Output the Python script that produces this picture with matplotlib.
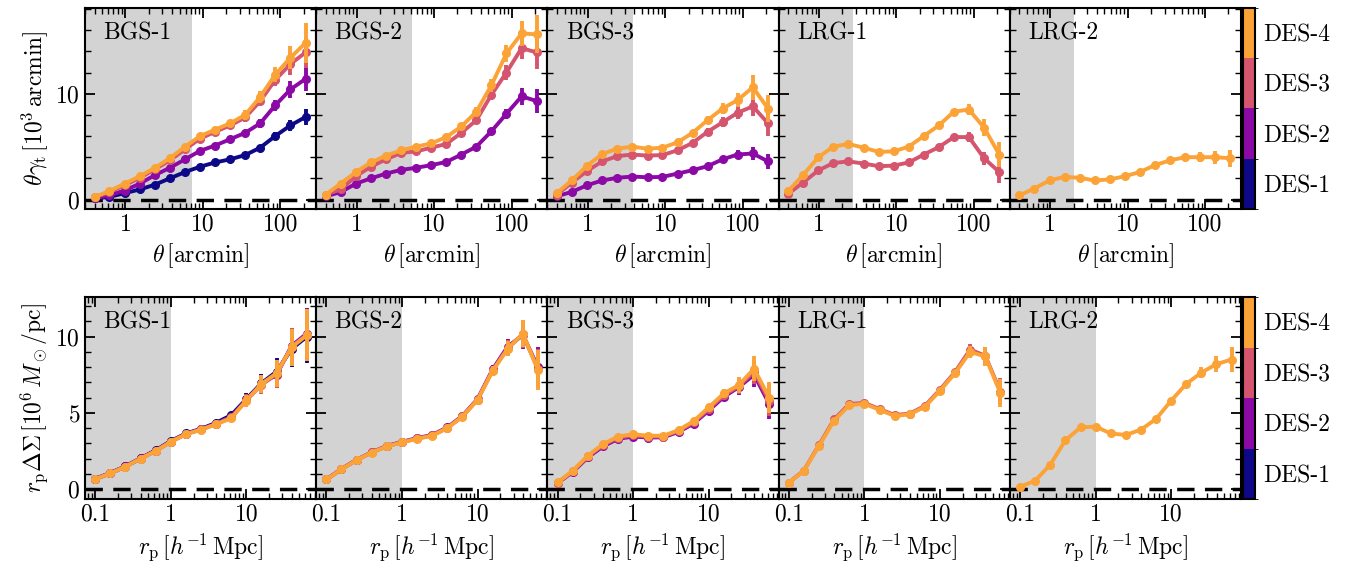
import numpy as np
import matplotlib
matplotlib.use("Agg")
import matplotlib.pyplot as plt
from matplotlib.ticker import MultipleLocator, FixedLocator, FixedFormatter, LogLocator, NullFormatter
from matplotlib.colors import ListedColormap, BoundaryNorm
import matplotlib.colorbar as mcolorbar

plt.rcParams['font.family'] = 'serif'
plt.rcParams['font.serif'] = ['cmr10', 'DejaVu Serif']
plt.rcParams['mathtext.fontset'] = 'cm'
plt.rcParams['axes.formatter.use_mathtext'] = True

# samples
lenses = ['BGS-1', 'BGS-2', 'BGS-3', 'LRG-1', 'LRG-2']
sources = ['DES-1', 'DES-2', 'DES-3', 'DES-4']
colors = ['#0d0887', '#8b0aa5', '#d5546e', '#fca338']

# angular bins [arcmin] and projected radii [Mpc/h]
theta = [0.40, 0.62, 0.98, 1.53, 2.4, 3.75, 5.9, 9.2, 14.4, 22.5, 35.2, 55.0, 86.0, 135.0, 212.0]
rp = [0.1, 0.158, 0.251, 0.398, 0.631, 1.0, 1.585, 2.512, 3.981, 6.31, 10.0, 15.85, 25.12, 39.81, 63.1]

# small-scale cuts (grey)
theta_cut = [7.3, 5.25, 3.86, 2.75, 2.0]
rp_cut = [1.0, 1.0, 1.0, 1.0, 1.0]

# theta * gamma_t [1e3 arcmin], keyed by source index
gt_bgs1 = {
    0: [0.10, 0.25, 0.60, 0.95, 1.40, 2.00, 2.60, 3.10, 3.50, 3.80, 4.20, 4.90, 6.00, 7.00, 7.80],
    1: [0.10, 0.40, 0.85, 1.50, 2.30, 3.00, 3.80, 4.60, 5.10, 5.70, 6.30, 7.20, 8.90, 10.4, 11.4],
    2: [0.20, 0.70, 1.35, 2.05, 2.85, 3.70, 4.75, 5.75, 6.40, 7.00, 7.75, 9.30, 11.3, 12.8, 13.9],
    3: [0.25, 0.80, 1.50, 2.20, 3.00, 3.90, 5.00, 6.00, 6.60, 7.20, 8.00, 9.70, 11.8, 13.4, 14.8],
}
gt_bgs1_err = {
    0: [0.03, 0.03, 0.04, 0.05, 0.06, 0.07, 0.08, 0.10, 0.12, 0.15, 0.20, 0.25, 0.35, 0.50, 0.80],
    1: [0.03, 0.04, 0.05, 0.06, 0.08, 0.10, 0.12, 0.15, 0.20, 0.25, 0.30, 0.40, 0.50, 0.80, 1.10],
    2: [0.04, 0.05, 0.06, 0.08, 0.10, 0.12, 0.15, 0.20, 0.25, 0.30, 0.40, 0.50, 0.60, 1.00, 1.50],
    3: [0.04, 0.05, 0.07, 0.09, 0.11, 0.14, 0.17, 0.22, 0.28, 0.35, 0.45, 0.55, 0.70, 1.10, 1.90],
}
gt_bgs2 = {
    1: [0.30, 0.70, 1.50, 2.00, 2.45, 2.80, 3.00, 3.25, 3.55, 4.25, 5.00, 6.45, 8.10, 9.75, 9.30],
    2: [0.47, 0.95, 2.20, 3.10, 3.80, 4.40, 4.55, 4.90, 5.25, 6.30, 7.50, 9.90, 12.0, 14.3, 13.9],
    3: [0.47, 1.50, 2.60, 3.50, 4.15, 4.65, 5.00, 5.30, 5.90, 6.90, 8.30, 10.8, 13.8, 15.7, 15.6],
}
gt_bgs2_err = {
    1: [0.03, 0.04, 0.05, 0.06, 0.07, 0.08, 0.10, 0.12, 0.15, 0.20, 0.25, 0.35, 0.50, 0.80, 1.10],
    2: [0.04, 0.05, 0.06, 0.08, 0.10, 0.12, 0.15, 0.18, 0.22, 0.30, 0.40, 0.50, 0.70, 1.00, 1.60],
    3: [0.04, 0.05, 0.07, 0.09, 0.11, 0.14, 0.17, 0.22, 0.28, 0.35, 0.45, 0.60, 0.80, 1.20, 1.80],
}
gt_bgs3 = {
    1: [0.31, 0.72, 1.35, 1.80, 2.05, 2.17, 2.10, 2.14, 2.45, 2.77, 3.15, 3.80, 4.25, 4.35, 3.60],
    2: [0.47, 1.60, 2.70, 3.60, 4.10, 4.25, 4.15, 4.20, 4.65, 5.35, 6.40, 7.30, 8.20, 8.80, 7.20],
    3: [0.63, 1.80, 3.20, 4.30, 4.80, 5.00, 4.80, 4.90, 5.40, 6.30, 7.50, 8.60, 9.40, 10.6, 8.60],
}
gt_bgs3_err = {
    1: [0.03, 0.04, 0.05, 0.06, 0.07, 0.08, 0.09, 0.10, 0.12, 0.15, 0.20, 0.30, 0.40, 0.60, 0.70],
    2: [0.04, 0.05, 0.06, 0.07, 0.08, 0.10, 0.12, 0.15, 0.20, 0.25, 0.35, 0.45, 0.60, 0.90, 1.20],
    3: [0.04, 0.05, 0.07, 0.08, 0.10, 0.12, 0.14, 0.18, 0.22, 0.30, 0.40, 0.55, 0.70, 1.20, 1.30],
}
gt_lrg1 = {
    2: [0.53, 1.60, 2.75, 3.45, 3.60, 3.40, 3.15, 3.20, 3.50, 4.25, 4.95, 5.90, 5.90, 3.90, 2.60],
    3: [0.80, 2.30, 4.00, 5.00, 5.25, 4.90, 4.50, 4.55, 5.00, 6.00, 7.00, 8.30, 8.50, 6.80, 4.25],
}
gt_lrg1_err = {
    2: [0.04, 0.05, 0.06, 0.07, 0.08, 0.09, 0.10, 0.11, 0.13, 0.16, 0.20, 0.30, 0.50, 0.60, 1.00],
    3: [0.05, 0.06, 0.07, 0.08, 0.09, 0.10, 0.11, 0.12, 0.14, 0.18, 0.22, 0.30, 0.50, 0.80, 1.20],
}
gt_lrg2 = {
    3: [0.38, 1.04, 1.80, 2.14, 2.05, 1.80, 1.90, 2.20, 2.60, 3.25, 3.70, 4.00, 4.00, 4.00, 3.90],
}
gt_lrg2_err = {
    3: [0.03, 0.04, 0.05, 0.06, 0.07, 0.08, 0.09, 0.10, 0.12, 0.15, 0.20, 0.30, 0.50, 0.60, 0.80],
}

# r_p * Delta Sigma [1e6 Msun/pc]
ds_bgs1 = {
    0: [0.68, 1.05, 1.50, 2.02, 2.55, 3.15, 3.65, 3.95, 4.35, 4.85, 5.90, 6.95, 7.70, 9.20, 10.0],
    1: [0.67, 1.04, 1.49, 2.01, 2.53, 3.12, 3.62, 3.93, 4.30, 4.75, 5.85, 6.90, 7.50, 9.40, 10.2],
    2: [0.66, 1.03, 1.48, 2.00, 2.51, 3.11, 3.61, 3.91, 4.27, 4.70, 5.82, 6.85, 7.55, 9.35, 10.1],
    3: [0.66, 1.03, 1.47, 2.00, 2.50, 3.10, 3.60, 3.90, 4.25, 4.65, 5.80, 6.90, 7.60, 9.30, 10.1],
}
ds_bgs1_err = [0.03, 0.04, 0.05, 0.06, 0.07, 0.08, 0.09, 0.10, 0.13, 0.20, 0.40, 0.60, 0.90, 1.20, 1.70]
ds_bgs2 = {
    1: [0.64, 1.32, 1.92, 2.42, 2.83, 3.10, 3.35, 3.55, 4.05, 4.80, 5.90, 7.85, 9.35, 10.1, 8.00],
    2: [0.63, 1.31, 1.91, 2.41, 2.81, 3.08, 3.32, 3.52, 4.02, 4.77, 5.87, 7.80, 9.25, 10.15, 7.90],
    3: [0.63, 1.30, 1.90, 2.40, 2.80, 3.06, 3.30, 3.50, 4.00, 4.75, 5.85, 7.75, 9.20, 10.2, 7.80],
}
ds_bgs2_err = [0.03, 0.04, 0.05, 0.06, 0.07, 0.08, 0.09, 0.10, 0.12, 0.15, 0.20, 0.30, 0.50, 0.90, 1.30]
ds_bgs3 = {
    1: [0.40, 1.12, 2.08, 2.80, 3.30, 3.45, 3.38, 3.40, 3.75, 4.30, 5.15, 6.05, 6.70, 7.50, 5.60],
    2: [0.42, 1.16, 2.14, 2.88, 3.38, 3.52, 3.44, 3.45, 3.81, 4.38, 5.25, 6.16, 6.76, 7.70, 5.80],
    3: [0.44, 1.20, 2.20, 2.95, 3.45, 3.60, 3.50, 3.50, 3.87, 4.46, 5.36, 6.28, 6.83, 7.90, 6.00],
}
ds_bgs3_err = [0.03, 0.04, 0.05, 0.06, 0.07, 0.08, 0.09, 0.10, 0.12, 0.15, 0.20, 0.30, 0.50, 0.80, 1.00]
ds_lrg1 = {
    2: [0.43, 1.22, 2.90, 4.58, 5.58, 5.66, 5.25, 4.86, 4.95, 5.46, 6.52, 7.68, 9.15, 8.75, 6.40],
    3: [0.42, 1.20, 2.85, 4.50, 5.50, 5.60, 5.20, 4.80, 4.90, 5.40, 6.45, 7.60, 9.00, 8.70, 6.30],
}
ds_lrg1_err = [0.03, 0.04, 0.05, 0.06, 0.07, 0.08, 0.09, 0.10, 0.11, 0.13, 0.16, 0.22, 0.40, 0.60, 0.90]
ds_lrg2 = {
    3: [0.15, 0.55, 1.60, 3.20, 4.05, 4.10, 3.65, 3.55, 3.90, 4.60, 5.80, 6.90, 7.64, 8.20, 8.50],
}
ds_lrg2_err = [0.03, 0.04, 0.05, 0.06, 0.07, 0.08, 0.09, 0.10, 0.11, 0.13, 0.16, 0.22, 0.35, 0.50, 0.80]

gt_all = [(gt_bgs1, gt_bgs1_err), (gt_bgs2, gt_bgs2_err), (gt_bgs3, gt_bgs3_err),
          (gt_lrg1, gt_lrg1_err), (gt_lrg2, gt_lrg2_err)]
ds_all = [(ds_bgs1, ds_bgs1_err), (ds_bgs2, ds_bgs2_err), (ds_bgs3, ds_bgs3_err),
          (ds_lrg1, ds_lrg1_err), (ds_lrg2, ds_lrg2_err)]

fig = plt.figure(figsize=(13.48, 5.69), dpi=100)
left, right = 0.063, 0.9206
pw = (right - left) / 5
rows = [(0.633, 0.986), (0.123, 0.478)]
fs = 17


def style_axis(ax):
    ax.tick_params(which='both', direction='in', top=True, right=True, labelsize=fs)
    ax.tick_params(which='major', length=7, width=1.3)
    ax.tick_params(which='minor', length=4, width=1.0)
    for s in ax.spines.values():
        s.set_linewidth(1.5)


for r in range(2):
    y0, y1 = rows[r]
    for i in range(5):
        ax = fig.add_axes([left + i * pw, y0, pw, y1 - y0])
        ax.set_xscale('log')
        if r == 0:
            data, errs = gt_all[i]
            xs = theta
            xlim = (0.30, 290)
            cut = theta_cut[i]
        else:
            data, errs = ds_all[i]
            xs = rp
            xlim = (0.073, 84)
            cut = rp_cut[i]
        ax.axvspan(xlim[0], cut, color='#d3d3d3', zorder=0, lw=0)
        ax.axhline(0, color='k', ls='--', lw=2.5, dashes=(5, 3), zorder=1)
        for k in sorted(data.keys()):
            e = errs[k] if isinstance(errs, dict) else errs
            ax.errorbar(xs, data[k], yerr=e, fmt='-o', color=colors[k], lw=2.8, ms=5.5,
                        elinewidth=2.8, capsize=0, zorder=2 + k)
        ax.set_xlim(*xlim)
        if r == 0:
            ax.set_ylim(-0.88, 18.1)
            ax.yaxis.set_major_locator(MultipleLocator(10))
            ax.yaxis.set_minor_locator(MultipleLocator(2))
            ax.xaxis.set_major_locator(FixedLocator([1, 10, 100]))
            ax.xaxis.set_major_formatter(FixedFormatter(['1', '10', '100']))
            ax.set_xlabel(r'$\theta\,[\mathrm{arcmin}]$', fontsize=fs)
        else:
            ax.set_ylim(-0.65, 12.6)
            ax.yaxis.set_major_locator(MultipleLocator(5))
            ax.yaxis.set_minor_locator(MultipleLocator(1))
            ax.xaxis.set_major_locator(FixedLocator([0.1, 1, 10]))
            ax.xaxis.set_major_formatter(FixedFormatter(['0.1', '1', '10']))
            ax.set_xlabel(r'$r_\mathrm{p}\,[h^{-1}\,\mathrm{Mpc}]$', fontsize=fs)
        ax.xaxis.set_minor_locator(LogLocator(base=10, subs=np.arange(2, 10), numticks=20))
        ax.xaxis.set_minor_formatter(NullFormatter())
        style_axis(ax)
        if i == 0:
            if r == 0:
                ax.set_ylabel(r'$\theta\gamma_\mathrm{t}\,[10^3\,\mathrm{arcmin}]$', fontsize=fs)
            else:
                ax.set_ylabel(r'$r_\mathrm{p}\Delta\Sigma\,[10^6\,M_\odot/\mathrm{pc}]$', fontsize=fs)
        else:
            ax.set_yticklabels([])
        ax.text(0.08, 0.875, lenses[i], transform=ax.transAxes, fontsize=fs, va='center')

    cax = fig.add_axes([right + 0.0015, y0, 0.009, y1 - y0])
    cmap = ListedColormap(colors)
    norm = BoundaryNorm([0.5, 1.5, 2.5, 3.5, 4.5], cmap.N)
    cb = mcolorbar.ColorbarBase(cax, cmap=cmap, norm=norm, ticks=[1, 2, 3, 4])
    cb.set_ticklabels(sources)
    cax.tick_params(length=0, labelsize=fs, pad=6)
    cb.outline.set_linewidth(1.5)

fig.savefig('out.png', dpi=100)
